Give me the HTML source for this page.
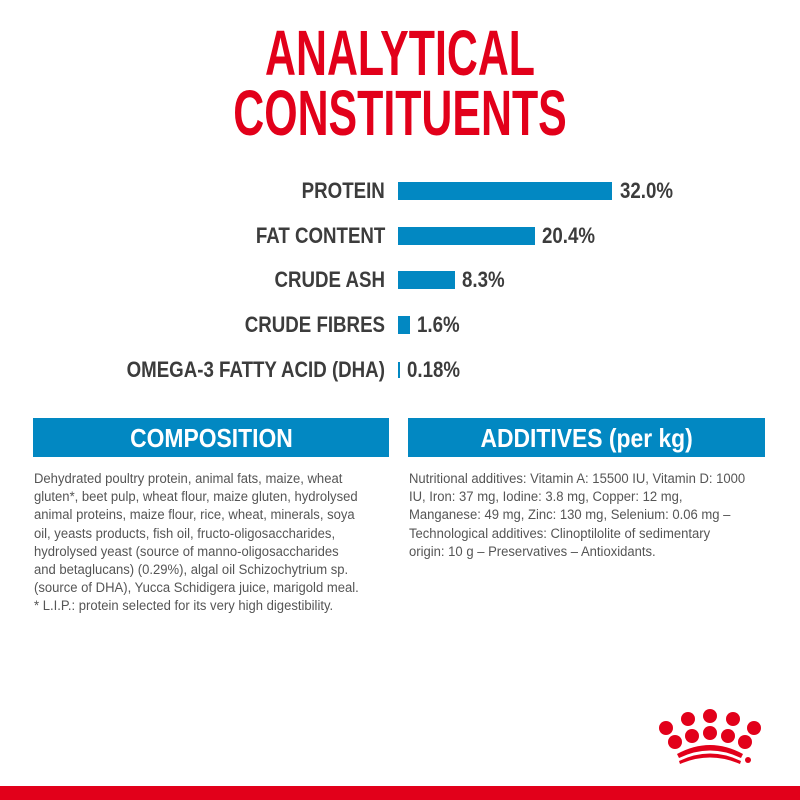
<!DOCTYPE html>
<html><head><style>
body{margin:0;width:800px;height:800px;background:#fff;position:relative;overflow:hidden;font-family:"Liberation Sans",sans-serif}
.t{position:absolute;left:0;width:800px;text-align:center;color:#e2001a;font-size:64px;font-weight:bold;line-height:64px;transform:scaleX(.67);transform-origin:400px 0}
.lab{position:absolute;right:415px;font-weight:bold;color:#3c3c3c;font-size:22px;transform:scaleX(.85);transform-origin:right center;white-space:nowrap;line-height:22px}
.val{position:absolute;font-weight:bold;color:#3c3c3c;font-size:22px;transform:scaleX(.85);transform-origin:left center;line-height:22px}
.bar{position:absolute;left:398px;background:#0288c2}
.hd{position:absolute;top:418px;height:39px;background:#0288c2;color:#fff;font-weight:bold;font-size:26px;line-height:40px;text-align:center}
.hd span{display:inline-block;transform:scaleX(.88)}
.tx{position:absolute;top:470px;color:#555;font-size:14.2px;line-height:18.2px;transform:scaleX(.92);transform-origin:left top;white-space:nowrap}
</style></head><body>
<div class="t" style="top:21px">ANALYTICAL</div>
<div class="t" style="top:81px">CONSTITUENTS</div>

<div class="lab" style="top:180px">PROTEIN</div><div class="bar" style="top:182px;width:214px;height:18px"></div><div class="val" style="left:620px;top:180px">32.0%</div>
<div class="lab" style="top:225px">FAT CONTENT</div><div class="bar" style="top:227px;width:137px;height:18px"></div><div class="val" style="left:542px;top:225px">20.4%</div>
<div class="lab" style="top:269px">CRUDE ASH</div><div class="bar" style="top:271px;width:57px;height:18px"></div><div class="val" style="left:462px;top:269px">8.3%</div>
<div class="lab" style="top:314px">CRUDE FIBRES</div><div class="bar" style="top:316px;width:12px;height:18px"></div><div class="val" style="left:417px;top:314px">1.6%</div>
<div class="lab" style="top:359px">OMEGA-3 FATTY ACID (DHA)</div><div class="bar" style="top:362px;width:2px;height:16px"></div><div class="val" style="left:407px;top:359px">0.18%</div>

<div class="hd" style="left:33px;width:356px"><span>COMPOSITION</span></div>
<div class="hd" style="left:408px;width:357px"><span>ADDITIVES (per kg)</span></div>

<div class="tx" style="left:34px">Dehydrated poultry protein, animal fats, maize, wheat<br>gluten*, beet pulp, wheat flour, maize gluten, hydrolysed<br>animal proteins, maize flour, rice, wheat, minerals, soya<br>oil, yeasts products, fish oil, fructo-oligosaccharides,<br>hydrolysed yeast (source of manno-oligosaccharides<br>and betaglucans) (0.29%), algal oil Schizochytrium sp.<br>(source of DHA), Yucca Schidigera juice, marigold meal.<br>* L.I.P.: protein selected for its very high digestibility.</div>
<div class="tx" style="left:409px">Nutritional additives: Vitamin A: 15500 IU, Vitamin D: 1000<br>IU, Iron: 37 mg, Iodine: 3.8 mg, Copper: 12 mg,<br>Manganese: 49 mg, Zinc: 130 mg, Selenium: 0.06 mg –<br>Technological additives: Clinoptilolite of sedimentary<br>origin: 10 g – Preservatives – Antioxidants.</div>

<svg style="position:absolute;left:0;top:0" width="800" height="800">
<g fill="#e2001a">
<circle cx="666" cy="728" r="7"/><circle cx="688" cy="719" r="7"/><circle cx="710" cy="716" r="7"/><circle cx="733" cy="719" r="7"/><circle cx="754" cy="728" r="7"/>
<circle cx="675" cy="742" r="7"/><circle cx="692" cy="736" r="7"/><circle cx="710" cy="733" r="7"/><circle cx="728" cy="736" r="7"/><circle cx="745" cy="742" r="7"/>
<path d="M677 754 Q710 736 743 754 L741 758 Q710 743 679 758Z"/>
<path d="M679 761 Q710 746 741 761 L740 764 Q710 751 680 764Z"/>
<circle cx="748" cy="760" r="3"/>
<rect x="0" y="786" width="800" height="14"/>
</g></svg>
</body></html>
